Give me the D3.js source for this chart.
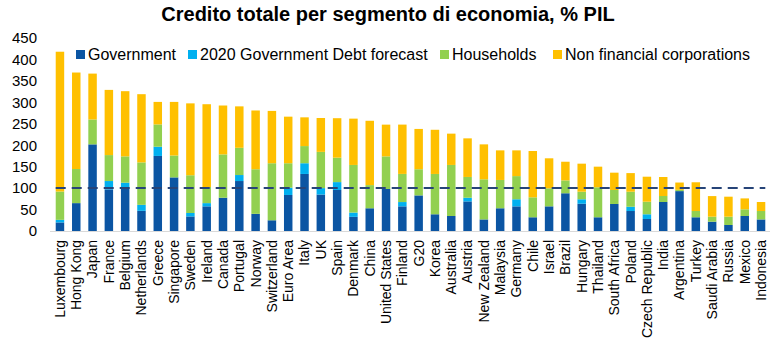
<!DOCTYPE html>
<html><head><meta charset="utf-8">
<script src="https://cdn.jsdelivr.net/npm/d3@7"></script>
<style>body{margin:0;background:#fff;font-family:Arial,"Liberation Sans",sans-serif}</style>
</head><body><svg id="c" width="777" height="347"></svg>
<script>
const categories = ["Luxembourg","Hong Kong","Japan","France","Belgium","Netherlands","Greece","Singapore","Sweden","Ireland","Canada","Portugal","Norway","Switzerland","Euro Area","Italy","UK","Spain","Denmark","China","United States","Finland","G20","Korea","Australia","Austria","New Zealand","Malaysia","Germany","Chile","Israel","Brazil","Hungary","Thailand","South Africa","Poland","Czech Republic","India","Argentina","Turkey","Saudi Arabia","Russia","Mexico","Indonesia"];
const government = [20,65,202,97,98,47,175,125,34,57.5,77.6,116.5,40,25,84,133,85,95.6,33,53,98,57.5,83,39,35,69,27,53,57.5,32,57.5,88,63.6,32,63,46.6,28,67.6,93,32,21.7,14,35,27];
const forecast2020 = [6,0,0,19.5,14.6,14,21.5,0,8,7.5,0,14,0,0,17,25,15,18.4,10,0,0,10,0,0,0,8.6,0,0,16.5,0,0,0,10.4,0,0,10,11,0,0,0,0,0,0,0];
const households = [66,79.5,58,60.5,61.4,99,52,51,88,37.6,101,63.5,104,133,57,40,84.5,57,111,54,76,65.6,61,94,119,48.4,93.5,66,54,46.5,42,30,17.6,70,32.6,35,29.3,14,3,14.6,11.7,19.4,15.6,19.6];
const nfc = [326,225,107,152,152,159,52.5,125,167.6,193,114,96.6,137,122,108.6,67,79,92,108,150,74,115,94,103,73,90,81.5,69,60,108,70,43.5,65.4,48,40.4,43.4,58.3,44.3,17,67,48,46.6,25.4,21];
const seriesNames = ["Government","2020 Government Debt forecast","Households","Non financial corporations"];
const yTicks = [0,50,100,150,200,250,300,350,400,450];
const threshold = 100;
const title = "Credito totale per segmento di economia, % PIL";

const colors = ["#0B55A3","#00B0F0","#92D050","#FFC000"];
const keys = ["gov","fc","hh","nfc"];
const rows = categories.map((c,i)=>({cat:c,gov:government[i],fc:forecast2020[i],hh:households[i],nfc:nfc[i]}));
const stack = d3.stack().keys(keys)(rows);

const svg = d3.select("#c");
const x = d3.scaleBand().domain(categories).range([51.8,769.2]).paddingInner(0.48).paddingOuter(0.24);
const y = d3.scaleLinear().domain([0,450]).range([231,38]);

svg.append("text").attr("x",388).attr("y",21).attr("text-anchor","middle")
  .attr("font-size",20).attr("font-weight","bold").attr("fill","#000").text(title);

// y axis labels
const ya = svg.append("g").attr("transform","translate(37,0)")
  .call(d3.axisLeft(y).tickValues(yTicks).tickSize(0).tickPadding(0));
ya.select(".domain").remove();
ya.selectAll("text").attr("font-size",15).attr("font-family","Arial, 'Liberation Sans', sans-serif").attr("fill","#000");

// baseline
svg.append("line").attr("x1",50).attr("x2",770).attr("y1",y(0)+0.5).attr("y2",y(0)+0.5)
  .attr("stroke","#D9D9D9").attr("stroke-width",1);

// bars
svg.append("g").selectAll("g").data(stack).join("g").attr("fill",(d,i)=>colors[i])
  .selectAll("rect").data(d=>d).join("rect")
  .attr("x",d=>x(d.data.cat)).attr("width",x.bandwidth())
  .attr("y",d=>y(d[1])).attr("height",d=>Math.max(0,y(d[0])-y(d[1])));

// threshold line
svg.append("line").attr("x1",x(categories[0])).attr("x2",x(categories[categories.length-1])+x.bandwidth())
  .attr("y1",y(threshold)).attr("y2",y(threshold))
  .attr("stroke","#264478").attr("stroke-width",2).attr("stroke-dasharray","10,6");

// x labels
const xa = svg.append("g").attr("transform",`translate(0,${y(0)})`)
  .call(d3.axisBottom(x).tickSize(0).tickPadding(0));
xa.select(".domain").remove();
xa.selectAll("text").attr("font-size",14).attr("font-family","Arial, 'Liberation Sans', sans-serif").attr("fill","#000")
  .attr("transform","rotate(-90)").attr("text-anchor","end").attr("x",-9).attr("y",0).attr("dy","0.35em");

// legend
const lx = [76,188,440,553];
const lg = svg.append("g");
seriesNames.forEach((n,i)=>{
  lg.append("rect").attr("x",lx[i]).attr("y",50).attr("width",9).attr("height",9).attr("fill",colors[i]);
  lg.append("text").attr("x",lx[i]+12).attr("y",60).attr("font-size",16).attr("fill","#000").text(n);
});
</script></body></html>
